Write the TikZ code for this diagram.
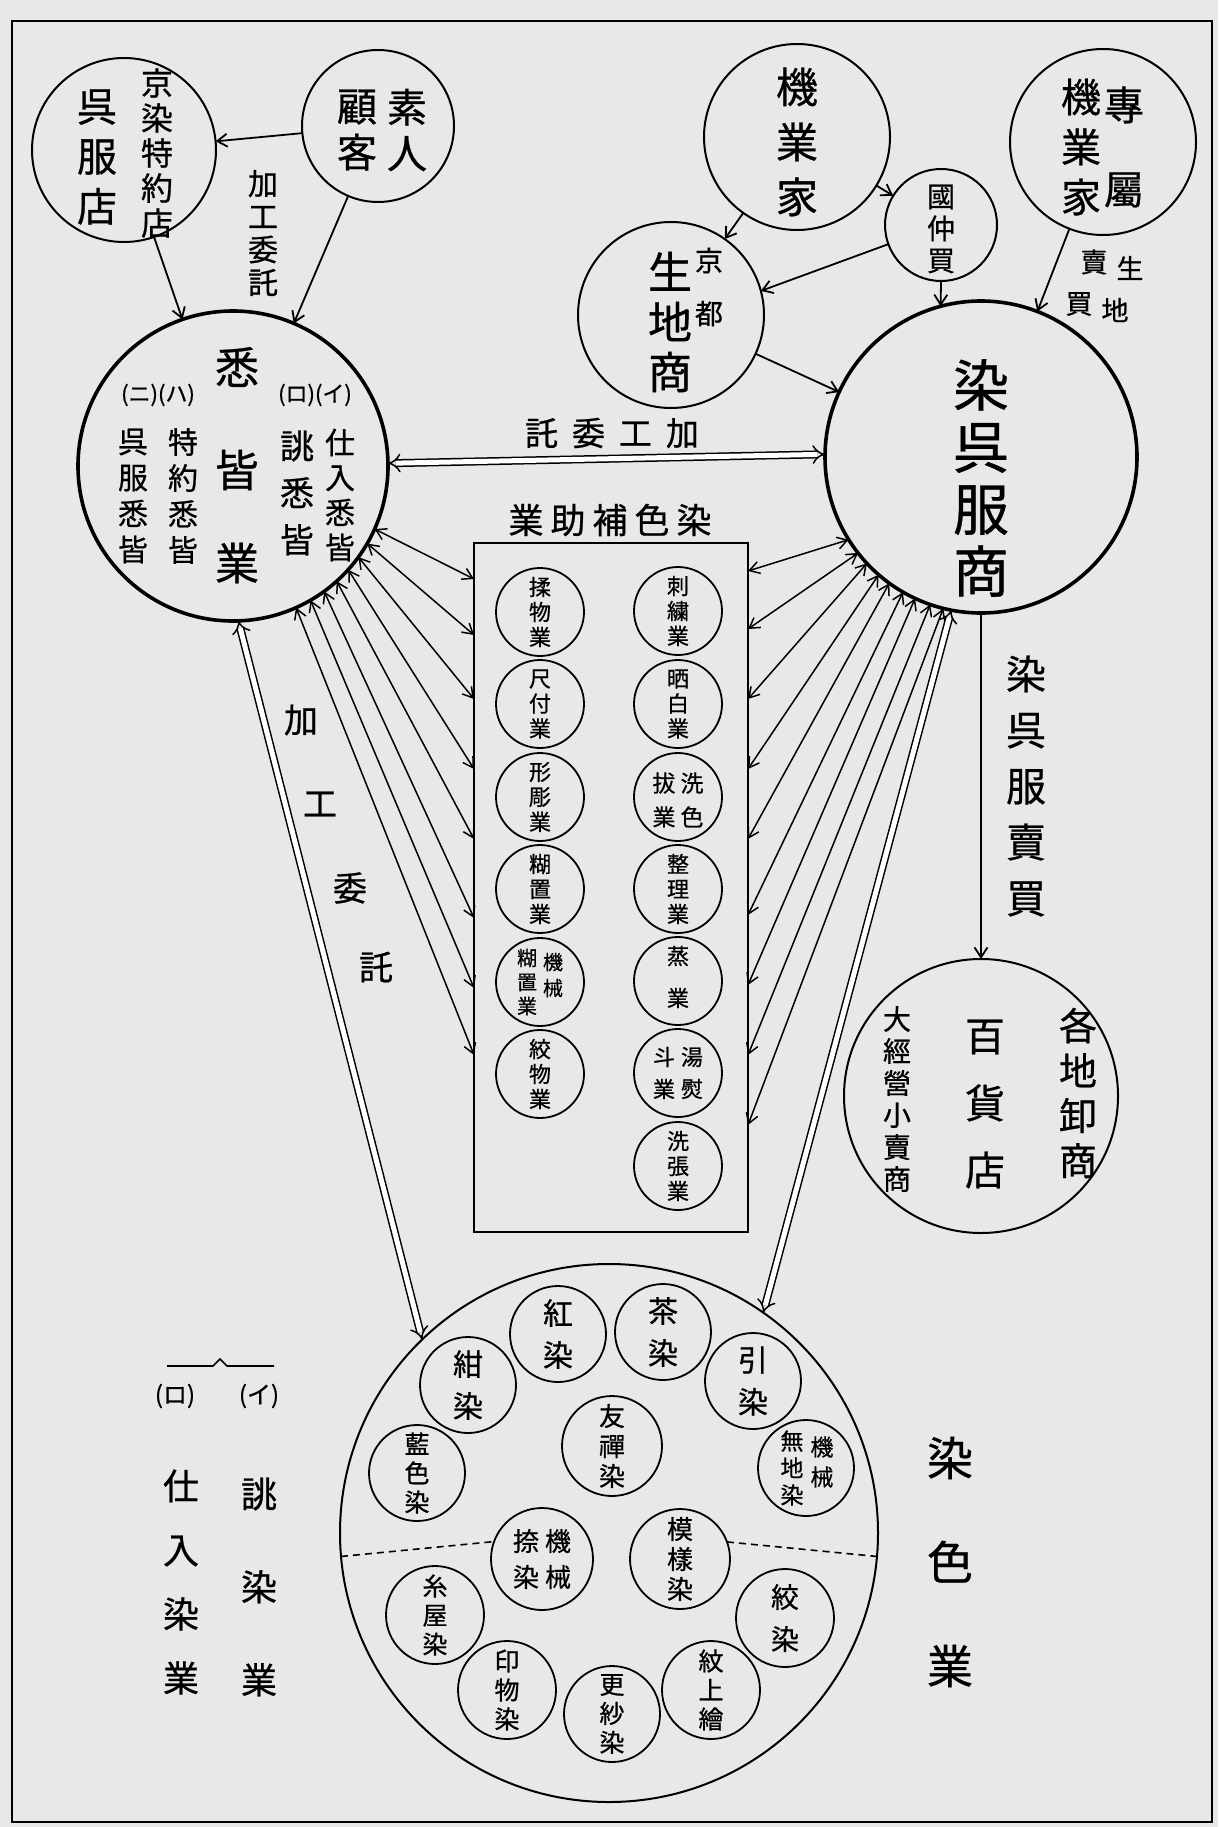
\documentclass[tikz,border=0pt]{standalone}
\usepackage{fontspec}
\newfontfamily\cjk[FakeBold=0.7]{Noto Sans CJK JP}
\usetikzlibrary{arrows.meta}
\newcommand\jf[2]{\cjk\fontsize{#1}{#2}\selectfont}
\begin{document}
\begin{tikzpicture}[x=1pt,y=-1pt,
  circ/.style={draw, circle, line width=2pt, inner sep=0pt, outer sep=0pt},
  bigc/.style={circ, line width=3.6pt},
  smc/.style={circ, line width=1.8pt},
  vt/.style={align=center, inner sep=0pt},
  arr/.style={-{Straight Barb[length=10pt,width=13pt]}, line width=1.8pt},
  barr/.style={{Straight Barb[length=10pt,width=12pt]}-{Straight Barb[length=10pt,width=12pt]}, line width=1.5pt},
  dbl/.style={double, double distance=5pt, line width=1.5pt, {Implies}-{Implies}}]
\fill[black!9] (0,0) rectangle (1218,1827);
\useasboundingbox (0,0) rectangle (1218,1827);
\draw[line width=2.5pt] (12,21) rectangle (1212,1822);

% ---- top left
\node[circ, minimum size=184] (kyo) at (124,150) {};
\node[vt, font=\jf{32}{35}] (kyoA) at (157,153) {京\\染\\特\\約\\店};
\node[vt, font=\jf{40}{50}] (kyoB) at (97,157) {呉\\服\\店};
\node[circ, minimum size=152] (shiro) at (378,126) {};
\node[vt, font=\jf{40}{46}] (shiroA) at (407,130) {素\\人};
\node[vt, font=\jf{40}{46}] (shiroB) at (357,130) {顧\\客};
\node[vt, font=\jf{30}{33}] (lab1) at (263,233) {加\\工\\委\\託};

% ---- shikkai
\node[bigc, minimum size=310] (shik) at (233,466) {};
\node[font=\jf{44}{44}, inner sep=0] (shik1) at (237,367) {悉};
\node[font=\jf{44}{44}, inner sep=0] (shik2) at (237,470) {皆};
\node[font=\jf{44}{44}, inner sep=0] (shik3) at (237,563) {業};
\node[font=\jf{22}{22}, inner sep=0] (shikp1) at (158,395) {(ニ)(ハ)};
\node[font=\jf{22}{22}, inner sep=0] (shikp2) at (315,395) {(ロ)(イ)};
\node[vt, font=\jf{30}{35}] (shikc1) at (340,495) {仕\\入\\悉\\皆};
\node[vt, font=\jf{34}{47}] (shikc2) at (297,493) {誂\\悉\\皆};
\node[vt, font=\jf{30}{36}] (shikc3) at (183,496) {特\\約\\悉\\皆};
\node[vt, font=\jf{30}{36}] (shikc4) at (133,496) {呉\\服\\悉\\皆};

% ---- top right
\node[circ, minimum size=186] (kigyo) at (797,137) {};
\node[vt, font=\jf{42}{55}] (kigyoT) at (797,142) {機\\業\\家};
\node[circ, minimum size=186] (senzoku) at (1103,142) {};
\node[vt, font=\jf{40}{84}] (senzokuA) at (1124,147) {專\\屬};
\node[vt, font=\jf{40}{50}] (senzokuB) at (1081,147) {機\\業\\家};
\node[circ, minimum size=112] (naka) at (941,225) {};
\node[vt, font=\jf{28}{32}] (nakaT) at (941,229) {國\\仲\\買};
\node[circ, minimum size=186] (kiji) at (671,315) {};
\node[vt, font=\jf{28}{53}] (kijiA) at (709,287) {京\\都};
\node[vt, font=\jf{44}{50}] (kijiB) at (670,322) {生\\地\\商};
\node[font=\jf{27}{27}, inner sep=0] (kl1) at (1130,268) {生};
\node[font=\jf{27}{27}, inner sep=0] (kl2) at (1115,310) {地};
\node[font=\jf{27}{27}, inner sep=0] (kl3) at (1094,262) {賣};
\node[font=\jf{27}{27}, inner sep=0] (kl4) at (1079,304) {買};

% ---- gofuku
\node[bigc, minimum size=312] (gofuku) at (981,457) {};
\node[vt, font=\jf{56}{62}] (gofukuT) at (981,478) {染\\呉\\服\\商};

% ---- arrows top
\draw[arr] (shiro) -- (kyo);
\draw[arr] (kyo) -- (shik);
\draw[arr] (shiro) -- (shik);
\draw[arr] (kigyo) -- (kiji);
\draw[arr] (kigyo) -- (naka);
\draw[arr] (naka.200) -- (kiji.15);
\draw[arr] (naka.-90) -- (gofuku.105);
\draw[arr] (senzoku) -- (gofuku);
\draw[arr] (kiji) -- (gofuku);
\draw[dbl] (shik.1) -- (gofuku.179);
\node[font=\jf{33}{33}, inner sep=0] (lab2) at (612,433) {託\hspace{14pt}委\hspace{14pt}工\hspace{14pt}加};
\node[font=\jf{35}{35}, inner sep=0] (lab3) at (610,520) {業\hspace{7pt}助\hspace{7pt}補\hspace{7pt}色\hspace{7pt}染};

% ---- box of auxiliary trades
\node[draw, line width=2pt, minimum width=274, minimum height=689, inner sep=0pt] (box) at (611,887.5) {};
\foreach \i/\y in {1/612,2/704,3/797,4/889,5/982,6/1074}
  \node[smc, minimum size=88] (L\i) at (540,\y) {};
\foreach \i/\y in {1/611,2/704,3/797,4/889,5/981,6/1073,7/1166}
  \node[smc, minimum size=88] (R\i) at (678,\y) {};
\node[vt, font=\jf{22}{25}] (Lt1) at (540,612) {揉\\物\\業};
\node[vt, font=\jf{22}{25}] (Lt2) at (540,704) {尺\\付\\業};
\node[vt, font=\jf{22}{25}] (Lt3) at (540,797) {形\\彫\\業};
\node[vt, font=\jf{22}{25}] (Lt4) at (540,889) {糊\\置\\業};
\node[vt, font=\jf{20}{26}] (Lt5a) at (553,975) {機\\械};
\node[vt, font=\jf{20}{24}] (Lt5b) at (527,982) {糊\\置\\業};
\node[vt, font=\jf{22}{25}] (Lt6) at (540,1074) {絞\\物\\業};
\node[vt, font=\jf{22}{25}] (Rt1) at (678,611) {刺\\繍\\業};
\node[vt, font=\jf{22}{25}] (Rt2) at (678,704) {晒\\白\\業};
\node[vt, font=\jf{23}{34}] (Rt3a) at (692,800) {洗\\色};
\node[vt, font=\jf{23}{34}] (Rt3b) at (664,800) {拔\\業};
\node[vt, font=\jf{22}{25}] (Rt4) at (678,889) {整\\理\\業};
\node[vt, font=\jf{22}{42}] (Rt5) at (678,977) {蒸\\業};
\node[vt, font=\jf{22}{32}] (Rt6a) at (692,1073) {湯\\熨};
\node[vt, font=\jf{22}{32}] (Rt6b) at (664,1073) {斗\\業};
\node[vt, font=\jf{22}{25}] (Rt7) at (678,1166) {洗\\張\\業};

% ---- fan arrows
\foreach \a/\y [count=\i] in {-24/579,-30/635,-36/699,-42/769,-48/839,-54/918,-60/988,-66/1055}{
  \coordinate (bl\i) at (474,\y);
  \draw[barr] (shik.\a) -- (bl\i);
}
\foreach \a/\y [count=\i] in {-148/571,-142.5/629,-137/699,-131.5/769,-126/839,-120.5/915,-115/985,-109.5/1055,-104/1125}{
  \coordinate (br\i) at (748,\y);
  \draw[barr] (gofuku.\a) -- (br\i);
}

% ---- hyakkaten
\node[circ, minimum size=274] (hyakka) at (981,1096) {};
\draw[arr] (gofuku) -- (hyakka);
\node[vt, font=\jf{40}{56}] (glab) at (1026,786) {染\\呉\\服\\賣\\買};
\node[vt, font=\jf{38}{45}] (hyA) at (1078,1093) {各\\地\\卸\\商};
\node[vt, font=\jf{40}{67}] (hyB) at (985,1104) {百\\貨\\店};
\node[vt, font=\jf{28}{32}] (hyC) at (897,1099) {大\\經\\營\\小\\賣\\商};

% ---- senshoku
\node[circ, minimum size=538] (senshoku) at (609,1533) {};
\draw[dbl] (shik.-88) -- (senshoku.134);
\draw[dbl] (gofuku.-101) -- (senshoku.55);
\node[font=\jf{34}{34}, inner sep=0] (k1) at (301,720) {加};
\node[font=\jf{34}{34}, inner sep=0] (k2) at (320,804) {工};
\node[font=\jf{34}{34}, inner sep=0] (k3) at (350,888) {委};
\node[font=\jf{34}{34}, inner sep=0] (k4) at (376,967) {託};

\node[smc, minimum size=96] (s1) at (558,1334) {};
\node[smc, minimum size=96] (s2) at (663,1332) {};
\node[smc, minimum size=96] (s3) at (753,1381) {};
\node[smc, minimum size=96] (s4) at (468,1385) {};
\node[smc, minimum size=96] (s5) at (417,1473) {};
\node[smc, minimum size=100] (s6) at (612,1446) {};
\node[smc, minimum size=96] (s7) at (806,1468) {};
\node[smc, minimum size=102] (s8) at (542,1559) {};
\node[smc, minimum size=100] (s9) at (680,1559) {};
\node[smc, minimum size=98] (s10) at (435,1615) {};
\node[smc, minimum size=98] (s11) at (785,1618) {};
\node[smc, minimum size=98] (s12) at (507,1690) {};
\node[smc, minimum size=96] (s13) at (612,1714) {};
\node[smc, minimum size=98] (s14) at (711,1690) {};
\node[vt, font=\jf{30}{42}] (st1) at (558,1334) {紅\\染};
\node[vt, font=\jf{30}{42}] (st2) at (663,1332) {茶\\染};
\node[vt, font=\jf{30}{42}] (st3) at (753,1381) {引\\染};
\node[vt, font=\jf{30}{42}] (st4) at (468,1385) {紺\\染};
\node[vt, font=\jf{25}{29}] (st5) at (417,1473) {藍\\色\\染};
\node[vt, font=\jf{26}{30}] (st6) at (612,1446) {友\\禪\\染};
\node[vt, font=\jf{23}{30}] (st7a) at (822,1462) {機\\械};
\node[vt, font=\jf{23}{27}] (st7b) at (792,1468) {無\\地\\染};
\node[vt, font=\jf{26}{36}] (st8a) at (558,1559) {機\\械};
\node[vt, font=\jf{26}{36}] (st8b) at (526,1559) {捺\\染};
\node[vt, font=\jf{26}{30}] (st9) at (680,1559) {模\\樣\\染};
\node[vt, font=\jf{25}{29}] (st10) at (435,1615) {糸\\屋\\染};
\node[vt, font=\jf{28}{42}] (st11) at (785,1618) {絞\\染};
\node[vt, font=\jf{25}{29}] (st12) at (507,1690) {印\\物\\染};
\node[vt, font=\jf{25}{29}] (st13) at (612,1714) {更\\紗\\染};
\node[vt, font=\jf{25}{29}] (st14) at (711,1690) {紋\\上\\繪};
\draw[dashed, dash pattern=on 7pt off 5pt, line width=1.6pt] (senshoku.185) -- (s8.160);
\draw[dashed, dash pattern=on 7pt off 5pt, line width=1.6pt] (s9.20) -- (senshoku.-5);
\node[vt, font=\jf{46}{104}] (senlab) at (950,1562) {染\\色\\業};

% ---- legend
\draw[line width=1.6pt] (167,1366) -- (213,1366) -- (220,1359) -- (227,1366) -- (274,1366);
\node[font=\jf{24}{24}, inner sep=0] (legR) at (175,1396) {(ロ)};
\node[font=\jf{24}{24}, inner sep=0] (legI) at (259,1396) {(イ)};
\node[vt, font=\jf{36}{64}] (legA) at (181,1582) {仕\\入\\染\\業};
\node[vt, font=\jf{36}{93}] (legB) at (259,1587) {誂\\染\\業};
\end{tikzpicture}
\end{document}
